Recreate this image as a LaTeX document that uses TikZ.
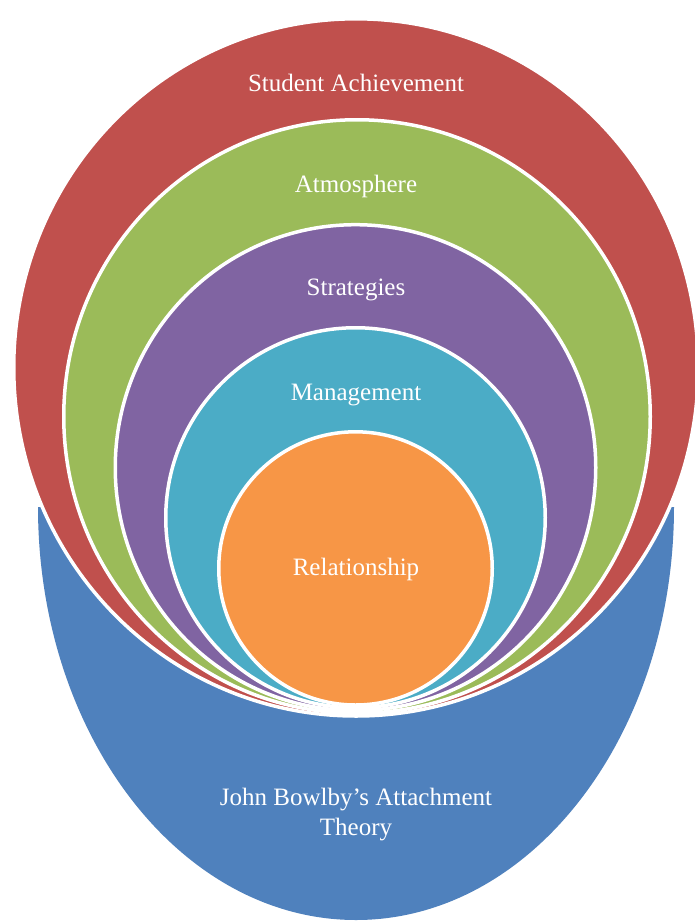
\documentclass[tikz,border=0pt]{standalone}
\usepackage{fontspec}
\setmainfont{Liberation Serif}
\usetikzlibrary{shapes.geometric}
\definecolor{cRed}{HTML}{C0504D}
\definecolor{cGreen}{HTML}{9BBB59}
\definecolor{cPurple}{HTML}{8064A2}
\definecolor{cTeal}{HTML}{4BACC6}
\definecolor{cOrange}{HTML}{F79646}
\definecolor{cBlue}{HTML}{4F81BD}
\begin{document}
\begin{tikzpicture}[x=1pt,y=-1pt,
  ring/.style={ellipse, draw=white, line width=3.5pt, inner sep=0pt, outer sep=0pt},
  lbl/.style={text=white, font=\fontsize{25}{30}\selectfont, align=center, inner sep=0pt}]
\useasboundingbox (0,0) rectangle (695,924);
\clip (0,0) rectangle (695,924);
\fill[white] (0,0) rectangle (695,924);
% base
\fill[cBlue] (38,507) arc[start angle=180,end angle=360,x radius=318pt,y radius=413pt] -- cycle;
% nested rings
\node[ring, fill=cRed,    minimum width=684.5pt, minimum height=697.2pt] (red)    at (356,367.4) {};
\node[ring, fill=cGreen,  minimum width=586.5pt, minimum height=593.5pt] (green)  at (357,416.5) {};
\node[ring, fill=cPurple, minimum width=480.5pt, minimum height=485.8pt] (purple) at (355.5,467.6) {};
\node[ring, fill=cTeal,   minimum width=379.5pt, minimum height=380pt]   (teal)   at (355.5,517.75) {};
\node[ring, fill=cOrange, minimum width=273.5pt, minimum height=273.2pt] (orange) at (355.5,568.4) {};
% labels
\node[lbl] (tRed)    at (356,83)  {Student Achievement};
\node[lbl] (tGreen)  at (356,186) {Atmosphere};
\node[lbl] (tPurple) at (356,290) {Strategies};
\node[lbl] (tTeal)   at (356,395) {Management};
\node[lbl] (tOrange) at (356,569) {Relationship};
\node[lbl] (tBlue)   at (356,815) {John Bowlby’s Attachment\\Theory};
\end{tikzpicture}
\end{document}
